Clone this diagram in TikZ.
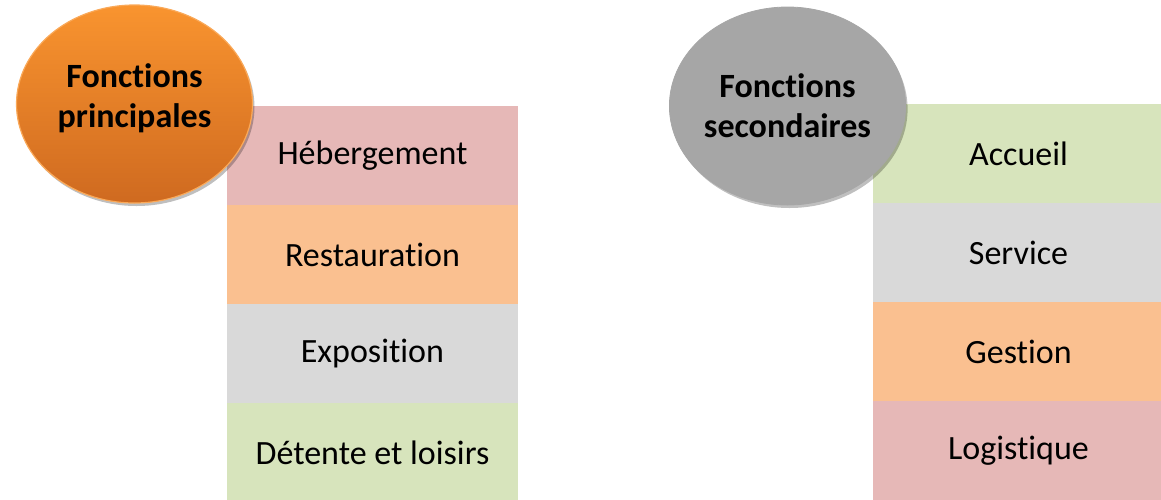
\documentclass[tikz,border=0pt]{standalone}
\usepackage{fontspec}
\setmainfont{Carlito}[Ligatures=NoCommon]
\usetikzlibrary{shapes.geometric,shadows}

\definecolor{rose}{HTML}{E6B8B7}
\definecolor{peche}{HTML}{FAC090}
\definecolor{gris}{HTML}{D9D9D9}
\definecolor{vert}{HTML}{D7E4BC}
\definecolor{orangeA}{HTML}{F9942F}
\definecolor{orangeB}{HTML}{CF6A20}
\definecolor{grisfonce}{HTML}{A6A6A6}

\tikzset{
	cell/.style={rectangle, inner sep=0pt, minimum width=145.5pt, minimum height=49.5pt, font=\fontsize{17}{20}\selectfont},
	bulle/.style={ellipse, inner sep=0pt, minimum width=118pt, minimum height=99pt, align=center,
		font=\fontsize{17}{20}\selectfont\bfseries,
		drop shadow={shadow xshift=1pt, shadow yshift=-1.5pt, opacity=0.25, fill=black}}
}

\begin{document}
\begin{tikzpicture}[x=0.5pt,y=-0.5pt]
	\useasboundingbox (0,0) rectangle (1161,499);
	% principales
	\foreach \txt/\col [count=\i] in {Hébergement/rose, Restauration/peche, Exposition/gris, Détente et loisirs/vert}
		\node[cell, fill=\col] (p\i) at (372.5, 155.5+99*\i-99) {\txt};
	% secondaires
	\foreach \txt/\col [count=\i] in {Accueil/vert, Service/gris, Gestion/peche, Logistique/rose}
		\node[cell, fill=\col] (s\i) at (1018.5, 153.5+99*\i-99) {\txt};
	\node[bulle, top color=orangeA, bottom color=orangeB, draw=orangeA!80!white, line width=0.6pt] (fp) at (134.5,104) {Fonctions\\principales\rule[-8pt]{0pt}{8pt}};
	\node[bulle, fill=grisfonce, draw=grisfonce] (fs) at (787.5,106) {Fonctions\\secondaires};
\end{tikzpicture}
\end{document}
